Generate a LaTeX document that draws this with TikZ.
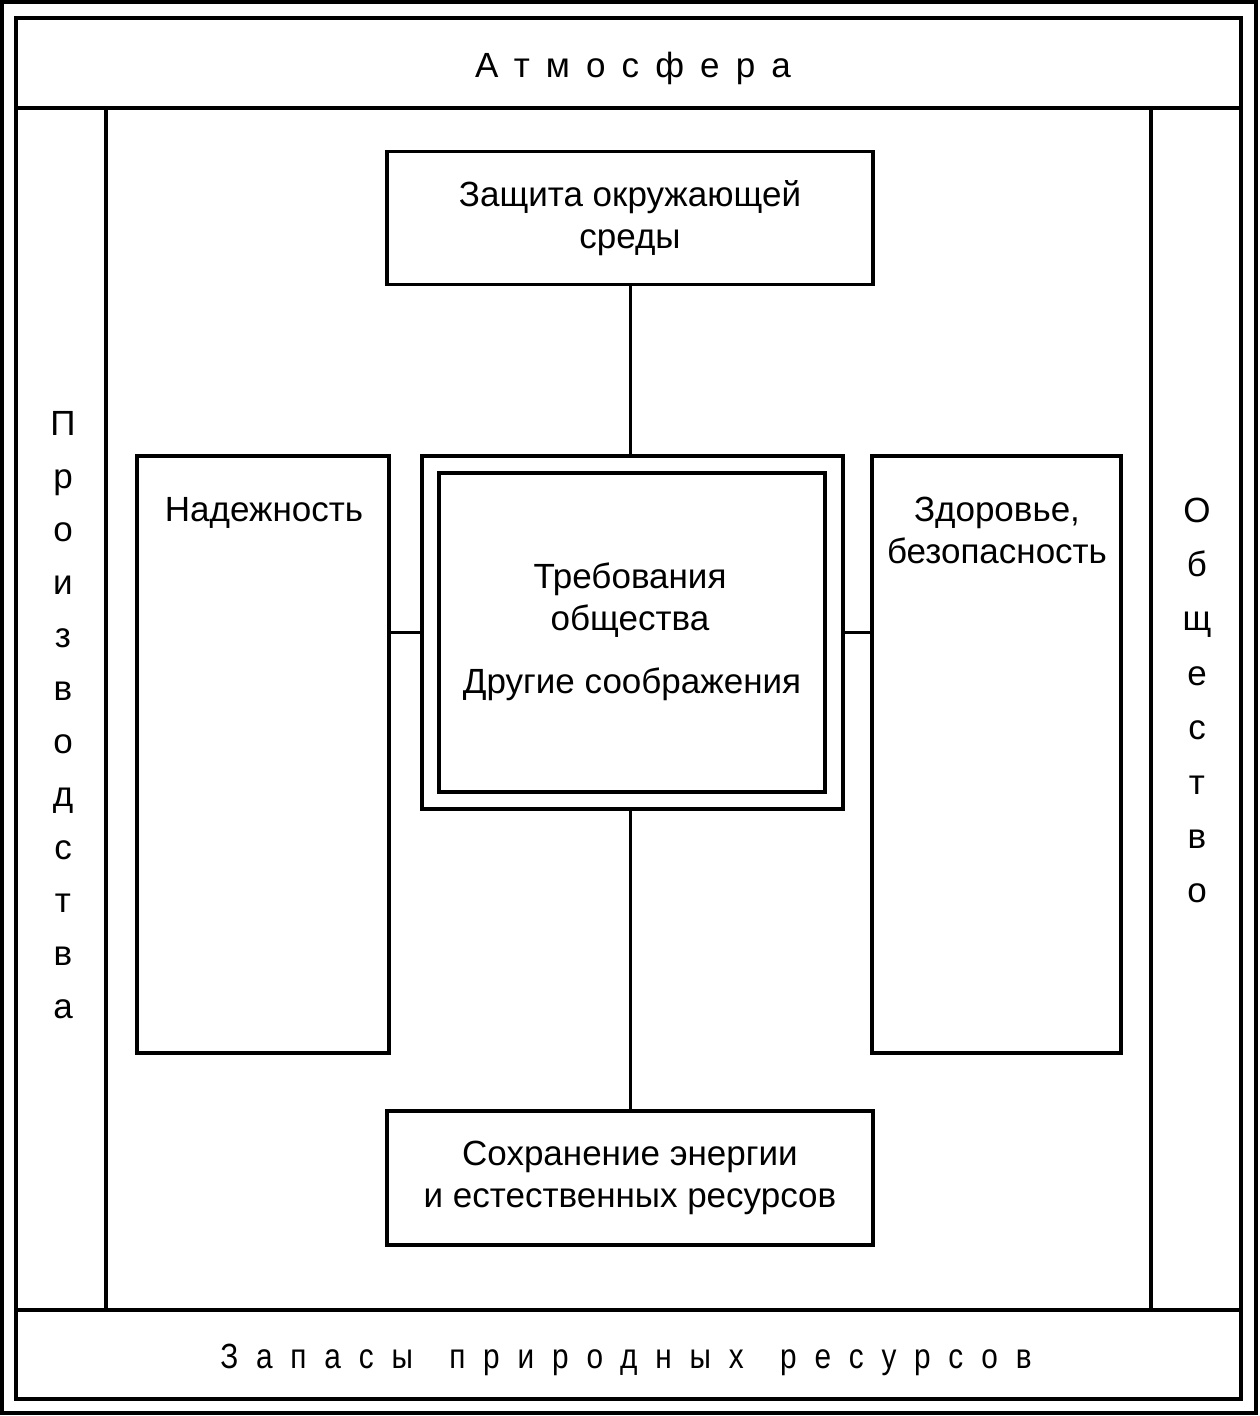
\documentclass[tikz,border=0pt]{standalone}
\usepackage{fontspec}
\setmainfont{Liberation Sans}
\begin{document}
\begin{tikzpicture}[x=1pt,y=-1pt,
  frame/.style={line width=4pt},
  box/.style={draw,line width=3.5pt,rectangle,inner sep=0pt,align=center},
  conn/.style={line width=3pt},
  lbl/.style={inner sep=0pt,align=center},
  font=\fontsize{35}{42}\selectfont]
\useasboundingbox (0,0) rectangle (1259,1416);
% frame
\draw[frame] (2,2) rectangle (1256,1413);
\draw[frame] (16,18) rectangle (1241,1399);
\draw[frame] (16,108) -- (1241,108);
\draw[frame] (16,1310) -- (1241,1310);
\draw[frame] (106,108) -- (106,1310);
\draw[frame] (1151,108) -- (1151,1310);
% titles
\node[lbl,anchor=base] (atm) at (633,77) {\addfontfeature{LetterSpace=46}Атмосфера};
\node[lbl,anchor=base] (zap) at (626,1368) {\scalebox{0.85}[1]{\addfontfeature{LetterSpace=60}Запасы\hspace{12pt} природных\hspace{12pt} ресурсов}};
\foreach \l [count=\i] in {П,р,о,и,з,в,о,д,с,т,в,а}
  \node[lbl,anchor=base] (pr\i) at (63,{435+53*(\i-1)}) {\l};
\foreach \l [count=\i] in {О,б,щ,е,с,т,в,о}
  \node[lbl,anchor=base] (ob\i) at (1197,{522+54.4*(\i-1)}) {\l};
% boxes
\node[box,minimum width=486,minimum height=133] (top) at (630,218) {Защита окружающей\\среды};
\node[box,minimum width=486,minimum height=134] (bot) at (630,1178) {Сохранение энергии\\и естественных ресурсов};
\node[box,minimum width=252,minimum height=597] (left) at (263,754.5) {};
\node[box,minimum width=249,minimum height=597] (right) at (996.5,754.5) {};
\node[box,minimum width=421,minimum height=353] (cen) at (632.5,632.5) {};
\node[box,minimum width=386,minimum height=319] (ceni) at (632,632.5) {};
% texts
\node[lbl,anchor=base] (tnad) at (264,521) {Надежность};
\node[lbl,anchor=base] (tzdr) at (997,563) {Здоровье,\\безопасность};
\node[lbl,anchor=base] (treb) at (630,630) {Требования\\общества};
\node[lbl,anchor=base] (drug) at (632,693) {Другие соображения};
% connectors
\draw[conn] (top.south) -- (top.south |- cen.north);
\draw[conn] (bot.north) -- (bot.north |- cen.south);
\draw[conn] (cen.west) -- (cen.west -| left.east);
\draw[conn] (cen.east) -- (cen.east -| right.west);
\end{tikzpicture}
\end{document}
